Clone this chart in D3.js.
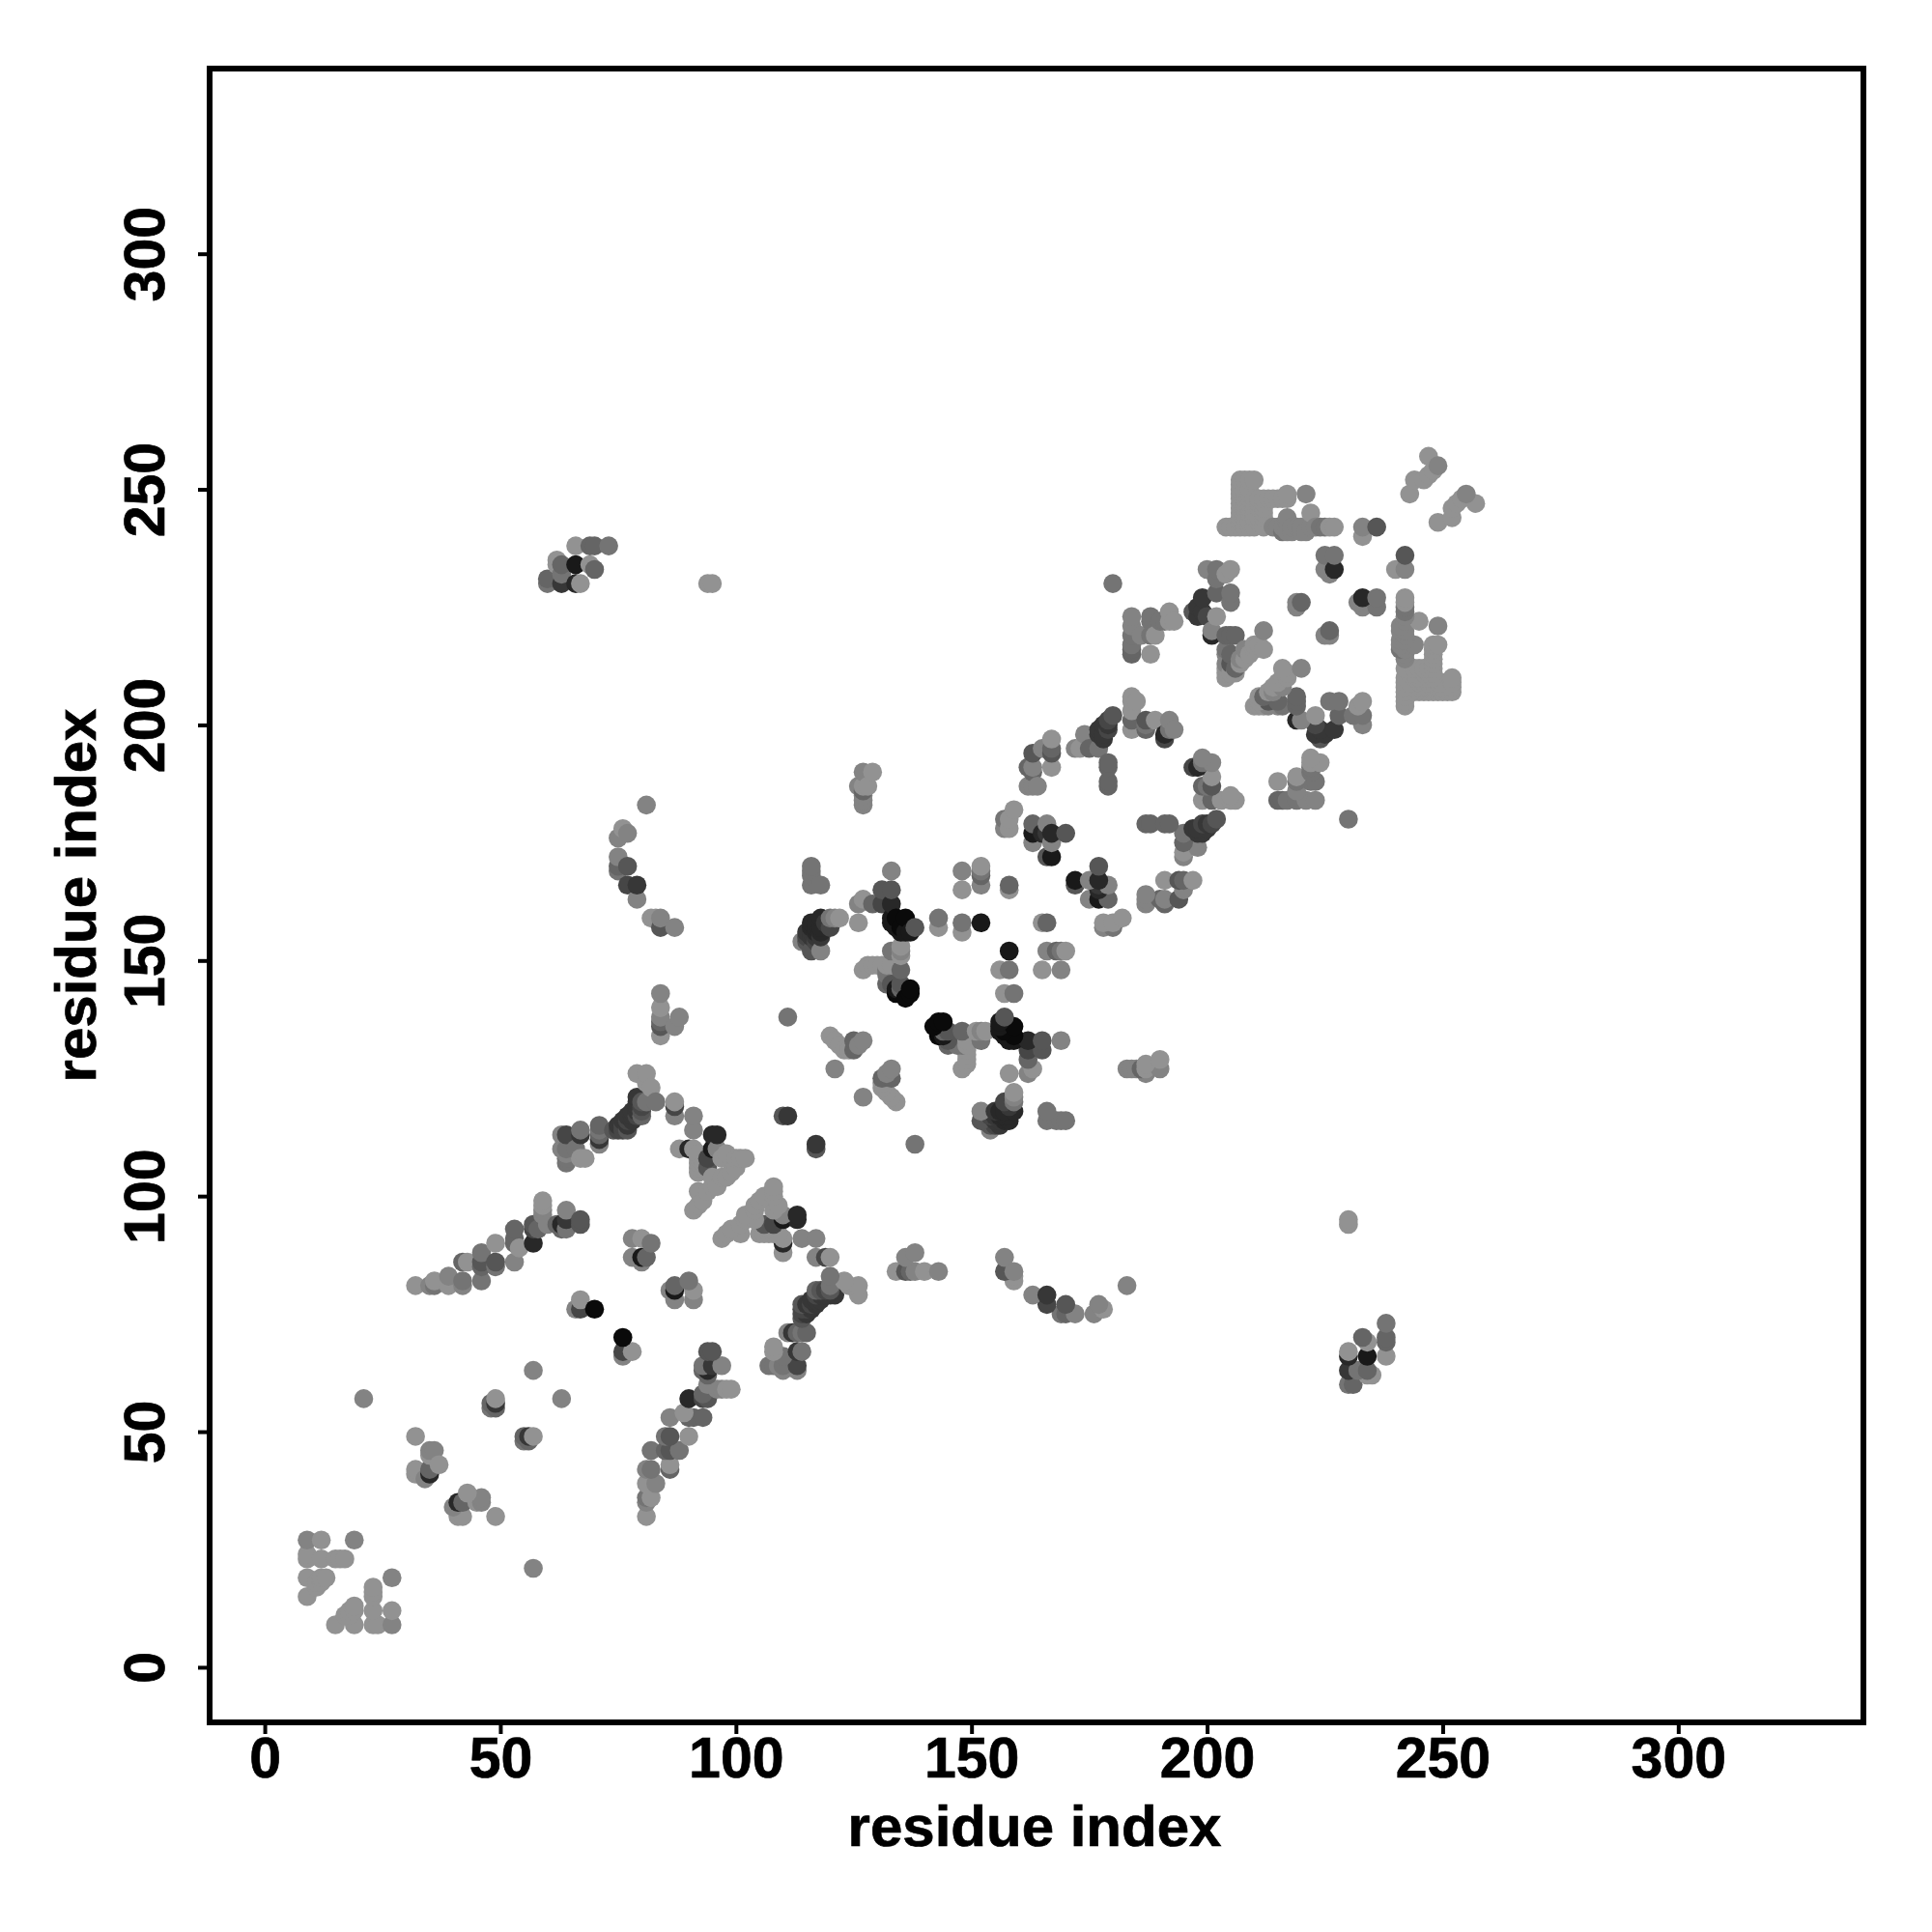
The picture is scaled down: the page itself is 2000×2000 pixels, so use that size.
<!DOCTYPE html>
<html><head><meta charset="utf-8">
<script src="https://cdn.jsdelivr.net/npm/d3@7"></script>
<style>html,body{margin:0;background:#fff}svg{display:block}text{font-family:"Liberation Sans",Arial,sans-serif;font-weight:700;fill:#000;stroke:#000;stroke-width:.7px}</style>
</head><body><div id="c"></div>
<script>
const xTicks=[0,50,100,150,200,250,300], yTicks=[0,50,100,150,200,250,300];
const xTitle="residue index", yTitle="residue index";
// residue pairs [i, j, darkness 0..9]; the map is symmetric, each pair is a mark at (i,j) and (j,i)
const contactsA=[[9,15,0],[9,19,0],[9,23,0],[9,24,0],[9,27,1],[11,17,0],[11,18,0],[12,18,0],[12,19,0],[12,23,0],[12,27,0],[13,19,0],[15,23,0],[16,23,0],[17,23,0],[19,27,1],[21,57,1],
[32,41,0],[32,42,0],[32,49,0],[32,81,0],[34,40,1],[35,41,7],[35,42,3],[35,45,0],[35,46,1],[35,81,1],[36,46,1],[36,81,2],[36,82,0],[37,43,0],[39,81,0],[39,83,1],[42,81,1],[42,82,2],[42,86,3],[43,86,0],
[46,82,2],[46,85,3],[46,86,4],[46,88,2],[48,55,2],[48,56,3],[49,55,3],[49,56,6],[49,57,0],[49,85,2],[49,86,4],[49,90,0],[53,86,1],[53,90,3],[53,91,3],[53,93,3],[54,89,0],[57,63,1],[57,90,7],[57,93,5],[57,94,4],[58,93,3],[59,96,1],[59,97,1],[59,98,0],[59,99,0],[60,94,1],[60,230,2],[60,231,3],[62,94,3],[62,234,0],[62,235,0],
[63,93,3],[63,94,7],[63,110,1],[63,113,1],[63,230,6],[63,232,2],[63,234,3],[64,93,2],[64,95,6],[64,97,1],[64,107,2],[64,108,2],[64,109,1],[64,110,2],[64,113,5],[66,76,1],[66,110,2],[66,230,7],[66,234,8],[66,238,0],[67,76,5],[67,78,0],[67,94,4],[67,95,4],[67,108,0],[67,113,6],[67,114,2],[67,230,0],[68,108,0],[69,234,0],[69,238,3],[70,76,9],[70,233,3],[70,238,3],[71,111,1],[71,112,6],[71,113,3],[71,114,2],[71,115,3],[73,238,2]];
const contactsB=[[74,114,4],[75,114,5],[75,115,6],[75,169,2],[75,170,3],[75,172,1],[75,176,1],[76,114,5],[76,115,5],[76,116,6],[76,178,0],[77,114,4],[77,115,6],[77,116,5],[77,117,6],[77,166,5],[77,170,4],[77,177,1],[78,87,1],[78,91,1],[78,116,6],[78,117,6],[78,118,6],[79,117,5],[79,118,6],[79,119,6],[79,120,6],[79,121,6],[79,126,0],[79,163,1],[79,166,6],[80,86,1],[80,87,8],[80,91,0],[80,117,3],[80,118,4],[80,119,5],[80,120,4],[81,87,3],[81,120,2],[81,124,0],[81,126,0],[81,183,1],[82,90,2],[82,123,0],[82,159,0],[83,120,2],[83,159,0],[84,134,0],[84,136,4],[84,137,3],[84,138,1],[84,140,0],[84,143,1],[84,157,4],[84,159,1],[87,117,1],[87,119,5],[87,120,0],[87,136,1],[87,157,1],[88,110,0],[88,138,1],
[90,110,7],[91,97,0],[91,110,0],[91,114,1],[91,117,1],[92,98,0],[92,101,0],[92,105,0],[92,106,0],[92,107,0],[92,108,0],[92,109,0],[93,99,0],[93,107,0],[94,101,0],[94,106,4],[94,108,5],[94,230,0],[95,102,0],[95,104,0],[95,110,8],[95,113,7],[95,230,0],[96,102,0],[96,110,1],[96,113,7],[97,104,0],[97,108,0],[98,104,0],[98,109,0],[99,105,0],[100,106,0],[100,108,0],[101,108,0],[102,108,0],
[110,117,4],[111,117,6],[111,138,2],[114,154,1],[115,154,4],[115,155,5],[115,156,6],[116,152,4],[116,155,6],[116,156,6],[116,157,7],[116,158,7],[116,166,2],[116,168,2],[116,169,2],[116,170,2],[117,154,5],[117,155,6],[117,156,7],[117,157,7],[117,158,7],[118,152,1],[118,155,6],[118,156,7],[118,157,7],[118,159,7],[118,166,2],[119,158,6],[120,134,0],[120,157,5],[120,159,2],[121,127,1],[121,133,0],[121,159,1],[122,132,0],[122,159,0],[123,131,0],[124,131,0],[125,131,3],[125,133,3],[126,132,1],[126,158,0],[126,162,1],[126,187,1],[127,133,1],[127,148,0],[127,163,0],[127,183,1],[127,184,1],[127,185,1],[127,186,3],[127,187,0],[127,190,1]];
const contactsC=[[128,149,0],[128,187,0],[129,149,0],[129,162,3],[129,190,0],[130,149,0],[131,149,0],[131,162,5],[131,165,4],[132,145,3],[132,147,2],[132,148,2],[132,149,0],[133,145,4],[133,149,0],[133,152,2],[133,158,8],[133,159,8],[133,162,7],[133,165,4],[133,169,1],[134,143,9],[134,144,8],[134,157,8],[134,159,9],[135,144,3],[135,145,4],[135,148,3],[135,151,0],[135,152,1],[135,153,0],[135,156,8],[135,157,9],[136,142,9],[136,156,8],[136,159,9],[137,143,9],[137,144,9],[137,156,8],[138,157,4],[143,157,0],[143,159,2],[148,156,0],[148,158,2],[148,165,0],[148,169,1],[152,158,8],[152,166,1],[152,168,3],[152,169,2],[152,170,0],[157,178,1],[157,180,2],[158,165,0],[158,166,3],[158,178,0],[158,180,0],[159,182,0],
[162,187,1],[162,191,3],[163,175,1],[163,177,8],[163,179,3],[163,187,1],[163,190,3],[163,191,1],[163,194,4],[164,187,1],[165,177,7],[165,195,1],[166,172,4],[166,177,6],[166,179,1],[167,172,8],[167,175,1],[167,177,7],[167,191,0],[167,194,4],[167,195,3],[167,197,0],[170,177,4],
[172,195,1],[173,195,0],[174,198,1],[175,195,3],[177,195,2],[177,198,6],[177,199,6],[178,197,6],[178,198,6],[178,200,6],[179,187,3],[179,188,3],[179,191,3],[179,192,3],[179,199,5],[179,200,6],[179,201,5],[180,202,4],[180,230,2],[184,199,0],[184,201,3],[184,203,0],[184,205,0],[184,206,0],[184,215,3],[184,216,3],[184,217,2],[184,219,2],[184,221,1],[184,223,1],[185,205,0],[186,219,1],[187,199,3],[187,200,2],[187,201,4],[188,215,0],[188,219,2],[188,222,2],[188,223,2],[189,201,0],[189,219,0],[190,222,2],[191,197,5],[191,198,7],[191,222,2],[192,199,2],[192,201,1],[192,222,0],[192,224,0],[193,199,1],[193,222,0]];
const contactsD=[[197,224,4],[198,223,6],[198,225,6],[199,224,6],[199,227,6],[200,223,5],[200,233,1],[201,219,7],[201,220,1],[202,223,0],[202,228,3],[202,231,2],[202,233,2],[204,210,0],[204,211,0],[204,212,0],[204,213,1],[204,215,1],[204,216,2],[204,219,3],[204,232,0],[204,242,0],[205,211,0],[205,213,4],[205,215,3],[205,219,3],[205,226,2],[205,228,2],[205,233,0],[205,242,0],[206,211,0],[206,212,3],[206,219,3],[206,242,0],[207,213,0],[207,214,1],[207,242,0],[207,243,0],[207,244,0],[207,245,0],[207,246,0],[207,247,0],[207,248,0],[207,249,0],[207,250,0],[207,251,0],[207,252,0],[208,214,0],[208,216,1],[208,242,0],[208,244,0],[208,245,0],[208,246,0],[208,247,0],[208,248,0],[208,249,0],[208,250,0],[208,252,0],[209,215,0],[209,242,0],[209,243,0],[209,245,0],[209,246,0],[209,247,0],[209,248,0],[209,249,0],[209,250,0],[209,252,0],[210,216,0],[210,217,0],[210,242,0],[210,244,0],[210,245,0],[210,246,0],[210,247,0],[210,248,0],[210,252,0],[211,217,0],[211,243,0],[211,244,0],[211,246,0],[211,247,0],[211,248,0],[212,216,0],[212,220,1],[212,242,0],[212,244,0],[212,245,0],[212,246,0],[212,247,0],[212,248,0],[213,248,0],[214,242,1],[214,248,0],
[215,242,1],[215,248,0],[216,241,2],[216,242,1],[216,248,0],[217,241,1],[217,243,1],[217,244,1],[217,248,0],[217,249,0],[218,241,1],[218,242,1],[219,225,1],[219,226,1],[219,242,1],[220,226,3],[220,241,1],[220,242,1],[221,241,1],[221,249,1],[222,242,1],[222,245,0],[223,242,1],[224,242,2],[225,233,1],[225,236,2],[225,242,2],[226,232,1],[226,242,0],[227,233,7],[227,236,2],[227,242,0],[233,240,0],[233,242,1],[236,242,4],[243,249,0],[244,252,0],[246,252,0],[247,253,0],[247,257,0],[248,254,0],[249,255,1]];

const contacts=[...contactsA,...contactsB,...contactsC,...contactsD];
const marks=contacts.flatMap(([i,j,s])=>[{x:i,y:j,s},{x:j,y:i,s}]);

const W=2000,H=2000;
const x=d3.scaleLinear().domain([-11.7,339.3]).range([217,1929]);
const y=d3.scaleLinear().domain([-11.7,339.3]).range([1783,71]);
const shade=d3.scaleLinear().domain([0,9]).range(["#929292","#0a0a0a"]);
const svg=d3.select("#c").append("svg").attr("width",W).attr("height",H);

svg.append("g").selectAll("circle").data(marks).join("circle")
  .attr("cx",d=>x(d.x)).attr("cy",d=>y(d.y)).attr("r",9.8).attr("fill",d=>shade(d.s));

svg.append("rect").attr("x",217).attr("y",71).attr("width",1712).attr("height",1712)
  .attr("fill","none").attr("stroke","#000").attr("stroke-width",6);

const xa=svg.append("g").attr("transform","translate(0,1783)")
  .call(d3.axisBottom(x).tickValues(xTicks).tickSize(12).tickFormat(d3.format("d")));
xa.select(".domain").remove();
xa.selectAll("line").attr("stroke","#000").attr("stroke-width",4);
xa.selectAll("text").attr("font-size",59).attr("fill","#000").attr("dy",0).attr("y",57);

const ya=svg.append("g").attr("transform","translate(217,0)")
  .call(d3.axisLeft(y).tickValues(yTicks).tickSize(12).tickFormat(d3.format("d")));
ya.select(".domain").remove();
ya.selectAll("line").attr("stroke","#000").attr("stroke-width",4);
ya.selectAll("text").attr("font-size",59).attr("fill","#000")
  .attr("x",0).attr("dy",0).attr("y",0).attr("text-anchor","middle")
  .attr("transform","translate(-47,0) rotate(-90)");

svg.append("text").attr("x",1071).attr("y",1911).attr("text-anchor","middle").attr("font-size",60).text(xTitle);
svg.append("text").attr("transform","translate(99,927) rotate(-90)").attr("text-anchor","middle").attr("font-size",60).text(yTitle);
</script></body></html>
